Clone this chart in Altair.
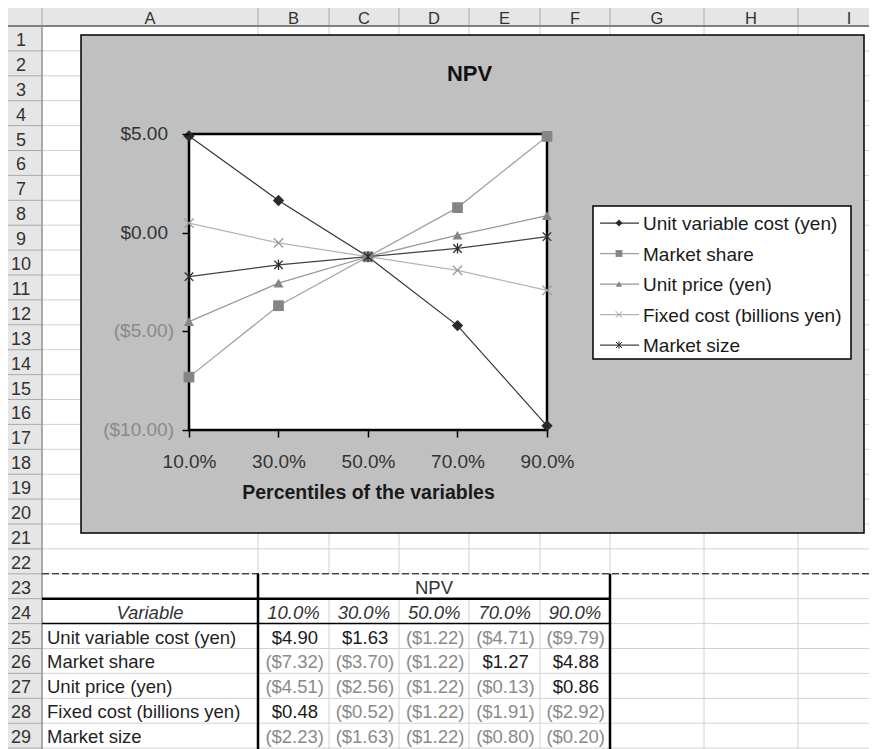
import altair as alt
import pandas as pd

# ------------------------------------------------------------------ data
percentiles = [0.1, 0.3, 0.5, 0.7, 0.9]
series_names = [
    "Unit variable cost (yen)",
    "Market share",
    "Unit price (yen)",
    "Fixed cost (billions yen)",
    "Market size",
]
unit_variable_cost = [4.90, 1.63, -1.22, -4.71, -9.79]
market_share = [-7.32, -3.70, -1.22, 1.27, 4.88]
unit_price = [-4.51, -2.56, -1.22, -0.13, 0.86]
fixed_cost = [0.48, -0.52, -1.22, -1.91, -2.92]
market_size = [-2.23, -1.63, -1.22, -0.80, -0.20]
y_ticks = [-10, -5, 0, 5]
chart_title = "NPV"
x_title = "Percentiles of the variables"
table_header = "NPV"
table_first_col = "Variable"
column_letters = ["A", "B", "C", "D", "E", "F", "G", "H", "I"]
row_numbers = list(range(1, 30))

series_values = [unit_variable_cost, market_share, unit_price, fixed_cost, market_size]

# ------------------------------------------------------------------ styles / layout
FONT = "Liberation Sans"
line_colors = ["#363636", "#a0a0a0", "#969696", "#b4b4b4", "#424242"]
marker_colors = ["#2a2a2a", "#858585", "#858585", "#9a9a9a", "#2a2a2a"]
marker_shapes = ["diamond", "square", "triangle-up",
                 "M-1,-1L1,1M-1,1L1,-1",
                 "M-1,-1L1,1M-1,1L1,-1M0,-1.2L0,1.2"]
marker_sizes = [130, 72, 200, 70, 80]
legend_marker_sizes = [50, 36, 70, 40, 44]

X0, Y0 = 189, 134          # page position of plot area
PLOT_W, PLOT_H = 358, 296
col_edges = [0, 42, 258, 329, 399, 469, 540, 610, 704, 798, 900]
ROW_TOP, ROW_H = 26, 24.9
BOTTOM = 760


def rx(px):
    return px - X0


def ry(py):
    return py - Y0


def row_top(r):
    return ROW_TOP + (r - 1) * ROW_H


def segs(rows):
    return pd.DataFrame([{"x": rx(a), "x2": rx(b), "y": ry(c), "y2": ry(d)} for a, b, c, d in rows])


def rule_layer(rows, color, width, dash=None):
    kw = dict(color=color, strokeWidth=width)
    if dash:
        kw["strokeDash"] = dash
    return alt.Chart(segs(rows)).mark_rule(**kw).encode(
        x=alt.X("x:Q", scale=None, axis=None), x2="x2:Q",
        y=alt.Y("y:Q", scale=None, axis=None), y2="y2:Q")


def rect_layer(rows, fill, stroke=None, width=0):
    kw = dict(fill=fill)
    if stroke:
        kw.update(stroke=stroke, strokeWidth=width)
    return alt.Chart(segs(rows)).mark_rect(**kw).encode(
        x=alt.X("x:Q", scale=None, axis=None), x2="x2:Q",
        y=alt.Y("y:Q", scale=None, axis=None), y2="y2:Q")


one = pd.DataFrame({"k": [0]})

# ------------------------------------------------------------------ spreadsheet grid
merged_edges = [329, 399, 469, 540]
grid_rows = []
for e in col_edges[2:-1]:
    if e in merged_edges:
        grid_rows.append((e, e, ROW_TOP, row_top(23)))
        grid_rows.append((e, e, row_top(24), BOTTOM))
    else:
        grid_rows.append((e, e, ROW_TOP, BOTTOM))
for r in range(2, 31):
    grid_rows.append((42, 900, row_top(r), row_top(r)))
grid = rule_layer(grid_rows, "#d2d2d2", 1)

hdr_bg = rect_layer([(0, 900, 0, ROW_TOP), (0, 42, ROW_TOP, BOTTOM)], "#e6e6e6")
hdr_sep = rule_layer([(e, e, 0, ROW_TOP) for e in col_edges[1:-1]] +
                     [(0, 42, row_top(r), row_top(r)) for r in range(2, 31)], "#aaaaaa", 1)
hdr_border = rule_layer([(0, 900, ROW_TOP, ROW_TOP)], "#808080", 2)
hdr_border2 = rule_layer([(42, 42, ROW_TOP, BOTTOM)], "#909090", 1.5)

col_df = pd.DataFrame({
    "t": column_letters,
    "x": [rx((col_edges[i + 1] + col_edges[i + 2]) / 2) for i in range(len(column_letters))],
    "y": [ry(ROW_TOP - 2)] * len(column_letters),
})
row_df = pd.DataFrame({
    "t": [str(n) for n in row_numbers],
    "x": [rx(21)] * len(row_numbers),
    "y": [ry(row_top(n + 1) - 5) for n in row_numbers],
})


def label_layer(df, size=18, color="#333333"):
    return alt.Chart(df).mark_text(font=FONT, fontSize=size, color=color, align="center",
                                   baseline="alphabetic").encode(
        x=alt.X("x:Q", scale=None, axis=None), y=alt.Y("y:Q", scale=None, axis=None), text="t:N")


col_text = label_layer(col_df, size=16.5)
row_text = label_layer(row_df)

# ------------------------------------------------------------------ chart object
gray_box = rect_layer([(81, 864, 35, 533)], "#c0c0c0", "black", 1.5)

long_rows = []
for name, vals in zip(series_names, series_values):
    for p, v in zip(percentiles, vals):
        long_rows.append({"series": name, "pct": p, "npv": v})
df = pd.DataFrame(long_rows)

xs = alt.Scale(domain=[0.1, 0.9], nice=False, zero=False)
ys = alt.Scale(domain=[-10, 5], nice=False, zero=False)
color_line = alt.Color("series:N", scale=alt.Scale(domain=series_names, range=line_colors), legend=None)
color_mark = alt.Color("series:N", scale=alt.Scale(domain=series_names, range=marker_colors), legend=None)
shape_enc = alt.Shape("series:N", scale=alt.Scale(domain=series_names, range=marker_shapes), legend=None)
size_enc = alt.Size("series:N", scale=alt.Scale(domain=series_names, range=marker_sizes), legend=None)

plot_rect = alt.Chart(one).mark_rect(fill="white", stroke="black", strokeWidth=2.5).encode(
    x=alt.X(datum=0.1, scale=xs, axis=None), x2=alt.X2(datum=0.9),
    y=alt.Y(datum=5, scale=ys, axis=None), y2=alt.Y2(datum=-10))

lines = alt.Chart(df).mark_line(strokeWidth=1.25).encode(
    x=alt.X("pct:Q", scale=xs, axis=alt.Axis(
        values=percentiles, format=".1%", title=x_title, labelFlush=False, labelOverlap=False,
        labelFont=FONT, labelFontSize=19, labelColor="#333333", labelPadding=15,
        tickSize=7, tickColor="black", tickWidth=1.5, domain=False, grid=False, zindex=1,
        titleFont=FONT, titleFontSize=19.5, titleFontWeight="bold", titleColor="#1a1a1a",
        titleBaseline="alphabetic", titleY=68)),
    y=alt.Y("npv:Q", scale=ys, axis=alt.Axis(
        values=y_ticks, labels=False, title=None,
        tickSize=7, tickColor="black", tickWidth=1.5, domain=False, grid=False, zindex=1)),
    color=color_line, detail="series:N")

# y tick labels in accounting format: positives leave room for the ")" of negatives
yt_df = pd.DataFrame({"v": y_ticks})
yt_df["label"] = ["(${:.2f})".format(abs(v)) if v < 0 else "${:.2f}".format(v) for v in y_ticks]
ylab_pos = alt.Chart(yt_df).transform_filter(alt.datum.v >= 0).mark_text(
    font=FONT, fontSize=19, color="#333333", align="right", baseline="middle").encode(
    x=alt.value(-21), y=alt.Y("v:Q", scale=ys, axis=None), text="label:N")
ylab_neg = alt.Chart(yt_df).transform_filter(alt.datum.v < 0).mark_text(
    font=FONT, fontSize=19, color="#8a8a8a", align="right", baseline="middle").encode(
    x=alt.value(-15), y=alt.Y("v:Q", scale=ys, axis=None), text="label:N")

filled_set = series_names[:3]
stroke_set = series_names[3:]

pts_filled = alt.Chart(df).transform_filter(
    alt.FieldOneOfPredicate(field="series", oneOf=filled_set)).mark_point(filled=True, opacity=1).encode(
    x=alt.X("pct:Q", scale=xs, axis=None), y=alt.Y("npv:Q", scale=ys, axis=None),
    color=color_mark, shape=shape_enc, size=size_enc)
pts_stroke = alt.Chart(df).transform_filter(
    alt.FieldOneOfPredicate(field="series", oneOf=stroke_set)).mark_point(filled=False, opacity=1,
                                                                         strokeWidth=1.3).encode(
    x=alt.X("pct:Q", scale=xs, axis=None), y=alt.Y("npv:Q", scale=ys, axis=None),
    color=color_mark, shape=shape_enc, size=size_enc)

title = alt.Chart(one).mark_text(font=FONT, fontSize=22, fontWeight="bold", color="#111111",
                                 align="center", baseline="alphabetic", text=chart_title).encode(
    x=alt.value(rx(469.5)), y=alt.value(ry(81)))

# legend built from marks
leg_df = pd.DataFrame({"series": series_names})
leg_y = alt.Y("series:N", scale=alt.Scale(type="point", domain=series_names,
                                          range=[ry(223), ry(345)], padding=0), axis=None)
leg_box = rect_layer([(593, 851, 206, 359)], "white", "black", 1.5)
leg_lines = alt.Chart(leg_df).mark_rule(strokeWidth=1.25).encode(
    x=alt.value(rx(600)), x2=alt.value(rx(639)), y=leg_y, color=color_line)
leg_size = alt.Size("series:N", scale=alt.Scale(domain=series_names, range=legend_marker_sizes), legend=None)
leg_pf = alt.Chart(leg_df).transform_filter(
    alt.FieldOneOfPredicate(field="series", oneOf=filled_set)).mark_point(filled=True, opacity=1).encode(
    x=alt.value(rx(619)), y=leg_y, color=color_mark, shape=shape_enc, size=leg_size)
leg_ps = alt.Chart(leg_df).transform_filter(
    alt.FieldOneOfPredicate(field="series", oneOf=stroke_set)).mark_point(filled=False, opacity=1,
                                                                         strokeWidth=1).encode(
    x=alt.value(rx(619)), y=leg_y, color=color_mark, shape=shape_enc, size=leg_size)
leg_text = alt.Chart(leg_df).mark_text(font=FONT, fontSize=19, color="#1a1a1a", align="left",
                                       baseline="middle", dy=1).encode(
    x=alt.value(rx(643)), y=leg_y, text="series:N")

# ------------------------------------------------------------------ table
page_break = rule_layer([(42, 900, row_top(23), row_top(23))], "black", 1, dash=[7, 3])
thick = rule_layer([(42, 610, row_top(24), row_top(24)),
                    (258, 258, row_top(23), BOTTOM),
                    (610, 610, row_top(23), BOTTOM)], "black", 2.5)
thin = rule_layer([(42, 610, row_top(25), row_top(25))], "black", 1.5)

CELL = 18.5
tbl_y = alt.Y("series:N", scale=alt.Scale(type="point", domain=series_names,
                                          range=[ry(row_top(26) - 5), ry(row_top(30) - 5)], padding=0),
              axis=None)
tbl_x = alt.X("pct:O", scale=alt.Scale(type="point", domain=percentiles, range=[rx(324), rx(605)], padding=0),
              axis=None)

df_tbl = df.assign(label=["(${:.2f})".format(abs(v)) if v < 0 else "${:.2f}".format(v) for v in df["npv"]])
tbl_neg = alt.Chart(df_tbl).transform_filter(alt.datum.npv < 0).mark_text(
    font=FONT, fontSize=CELL, align="right", baseline="alphabetic", color="#8a8a8a").encode(
    x=tbl_x, y=tbl_y, text="label:N")
tbl_pos = alt.Chart(df_tbl).transform_filter(alt.datum.npv >= 0).mark_text(
    font=FONT, fontSize=CELL, align="right", baseline="alphabetic", color="#1a1a1a", dx=-6).encode(
    x=tbl_x, y=tbl_y, text="label:N")
tbl_names = alt.Chart(leg_df).mark_text(font=FONT, fontSize=CELL, color="#1f1f1f", align="left",
                                        baseline="alphabetic").encode(
    x=alt.value(rx(47)), y=tbl_y, text="series:N")
pct_df = pd.DataFrame({"pct": percentiles})
tbl_pcts = alt.Chart(pct_df).mark_text(font=FONT, fontSize=CELL, fontStyle="italic", color="#333333",
                                       align="center", baseline="alphabetic").encode(
    x=alt.X("pct:O", scale=alt.Scale(type="point", domain=percentiles, range=[rx(293.5), rx(575)], padding=0),
            axis=None),
    y=alt.value(ry(row_top(25) - 4.5)), text=alt.Text("pct:Q", format=".1%"))
tbl_var = alt.Chart(one).mark_text(font=FONT, fontSize=CELL, fontStyle="italic", color="#333333",
                                   align="center", baseline="alphabetic", text=table_first_col).encode(
    x=alt.value(rx(150)), y=alt.value(ry(row_top(25) - 4.5)))
tbl_head = alt.Chart(one).mark_text(font=FONT, fontSize=CELL, color="#333333",
                                    align="center", baseline="alphabetic", text=table_header).encode(
    x=alt.value(rx(434)), y=alt.value(ry(row_top(24) - 5)))

chart = alt.layer(
    grid, hdr_bg, hdr_sep, hdr_border, hdr_border2, col_text, row_text,
    gray_box, plot_rect, lines, ylab_pos, ylab_neg, pts_filled, pts_stroke, title,
    leg_box, leg_lines, leg_pf, leg_ps, leg_text,
    page_break, thin, thick, tbl_neg, tbl_pos, tbl_names, tbl_pcts, tbl_var, tbl_head,
).resolve_scale(
    x="independent", y="independent", color="independent", shape="independent", size="independent"
).properties(
    width=PLOT_W, height=PLOT_H,
    padding={"left": 181, "top": 126, "right": 322, "bottom": 319},
    autosize=alt.AutoSizeParams(type="none"),
).configure_view(stroke=None).configure(background="white")

chart.save("out.html", embed_options={"renderer": "svg", "actions": False})
